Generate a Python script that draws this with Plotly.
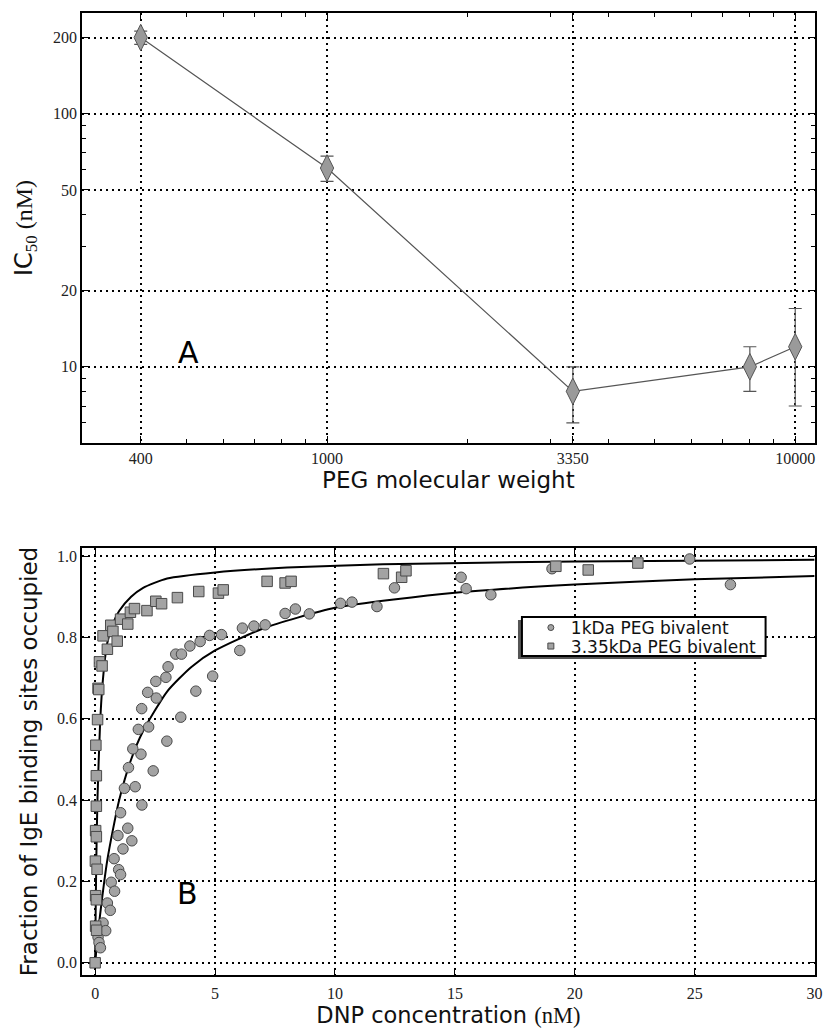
import plotly.graph_objects as go
import math

# ---------------- Panel A data ----------------
peg_mw = [400, 1000, 3350, 8000, 10000]
ic50 = [200, 61, 8, 10, 12]
ic50_err = [12, 7, 2, 2, 5]
peg_ticks = [400, 1000, 3350, 10000]
peg_ticktext = ["400", "1000", "3350", "10000"]
peg_minor = [500, 600, 700, 800, 900, 2000, 3000, 4000, 5000, 6000, 7000, 8000, 9000]
ic50_ticks = [10, 20, 50, 100, 200]
ic50_minor = [6, 7, 8, 9, 30, 40, 60, 70, 80, 90]

# ---------------- Panel B data ----------------
kda1_x = [0.12, 0.16, 0.22, 0.33, 0.44, 0.51, 0.63, 0.67, 0.81, 0.79, 0.98, 1.06, 0.95, 1.16,
          1.36, 1.53, 1.06, 1.95, 1.22, 1.67, 1.39, 2.42, 1.91, 1.57, 2.99, 1.80, 2.23, 3.57,
          1.94, 2.55, 2.19, 4.20, 2.53, 2.95, 4.90, 3.04, 3.36, 3.60, 6.03, 3.95, 4.38, 4.77,
          5.27, 6.14, 6.62, 7.09, 7.92, 8.35, 8.93, 10.23, 10.71, 11.75, 12.48, 15.26, 15.47,
          16.50, 19.05, 24.79, 26.49]
kda1_y = [0.063, 0.050, 0.037, 0.098, 0.079, 0.147, 0.129, 0.198, 0.176, 0.256, 0.229, 0.217,
          0.313, 0.280, 0.331, 0.300, 0.369, 0.388, 0.429, 0.433, 0.480, 0.472, 0.513, 0.526,
          0.545, 0.574, 0.580, 0.604, 0.625, 0.651, 0.665, 0.668, 0.692, 0.702, 0.705, 0.728,
          0.759, 0.759, 0.768, 0.779, 0.790, 0.805, 0.807, 0.823, 0.828, 0.831, 0.859, 0.870,
          0.858, 0.884, 0.887, 0.876, 0.922, 0.948, 0.920, 0.905, 0.969, 0.993, 0.930]

kda335_x = [0.00, 0.02, 0.06, 0.02, 0.05, 0.01, 0.08, 0.02, 0.05, 0.05, 0.05, 0.03, 0.10, 0.12,
            0.15, 0.18, 0.29, 0.33, 0.51, 0.65, 0.74, 0.92, 1.06, 1.36, 1.47, 1.64, 2.16, 2.53,
            2.77, 3.43, 4.32, 5.14, 5.34, 7.17, 7.92, 8.17, 12.02, 12.78, 12.96, 19.21, 20.56,
            22.63]
kda335_y = [0.000, 0.090, 0.080, 0.165, 0.155, 0.250, 0.230, 0.325, 0.310, 0.385, 0.460, 0.535,
            0.598, 0.675, 0.672, 0.740, 0.730, 0.804, 0.771, 0.830, 0.815, 0.791, 0.845, 0.833,
            0.862, 0.871, 0.866, 0.889, 0.883, 0.898, 0.913, 0.909, 0.917, 0.938, 0.934, 0.938,
            0.957, 0.948, 0.964, 0.975, 0.966, 0.983]

# fitted curves
fit_fast_x = [0, 0.02, 0.05, 0.1, 0.2, 0.3, 0.5, 0.75, 1.0, 1.5, 2.0, 3.0, 5.0, 8.0, 12.0, 20.0, 30.0]
fit_fast_y = [0, 0.12, 0.26, 0.41, 0.58, 0.68, 0.785, 0.835, 0.865, 0.90, 0.922, 0.945, 0.960,
              0.972, 0.980, 0.987, 0.991]
fit_slow_x = [0, 0.1, 0.25, 0.5, 0.75, 1.0, 1.5, 2.0, 3.0, 4.0, 5.0, 7.0, 10.0, 15.0, 20.0, 25.0, 30.0]
fit_slow_y = [0, 0.063, 0.14, 0.25, 0.33, 0.40, 0.50, 0.57, 0.667, 0.727, 0.768, 0.822, 0.873,
              0.910, 0.930, 0.943, 0.951]

SERIF = "Liberation Serif"
SANS = "DejaVu Sans"
W, H = 834, 1036

fig = go.Figure()

# Panel A
fig.add_trace(go.Scatter(
    x=peg_mw, y=ic50, mode="lines+markers", xaxis="x", yaxis="y", showlegend=False,
    line=dict(color="#555555", width=1.2),
    marker=dict(symbol="diamond-tall", size=19, color="#9a9a9a", line=dict(color="#555555", width=1)),
    error_y=dict(type="data", array=ic50_err, visible=True, color="#555555", thickness=1.2, width=6.5),
))

# Panel B
fig.add_trace(go.Scatter(x=fit_fast_x, y=fit_fast_y, mode="lines", xaxis="x2", yaxis="y2",
                         line=dict(color="black", width=2, shape="spline", smoothing=0.6), showlegend=False))
fig.add_trace(go.Scatter(x=fit_slow_x, y=fit_slow_y, mode="lines", xaxis="x2", yaxis="y2",
                         line=dict(color="black", width=2, shape="spline", smoothing=0.6), showlegend=False))
fig.add_trace(go.Scatter(x=kda1_x, y=kda1_y, mode="markers", xaxis="x2", yaxis="y2", showlegend=False,
                         marker=dict(symbol="circle", size=10.5, color="#a3a3a3", line=dict(color="#4a4a4a", width=1))))
fig.add_trace(go.Scatter(x=kda335_x, y=kda335_y, mode="markers", xaxis="x2", yaxis="y2", showlegend=False,
                         marker=dict(symbol="square", size=10.5, color="#a3a3a3", line=dict(color="#4a4a4a", width=1))))
# legend entries (small symbols), one per legend so the rows can sit close together
fig.add_trace(go.Scatter(x=[None], y=[None], mode="markers", xaxis="x2", yaxis="y2", name="1kDa PEG bivalent",
                         legend="legend",
                         marker=dict(symbol="circle", size=6, color="#a3a3a3", line=dict(color="#4a4a4a", width=1))))
fig.add_trace(go.Scatter(x=[None], y=[None], mode="markers", xaxis="x2", yaxis="y2", name="3.35kDa PEG bivalent",
                         legend="legend2",
                         marker=dict(symbol="square", size=6, color="#a3a3a3", line=dict(color="#4a4a4a", width=1))))

XD = [83 / W, 822.5 / W]
axis_common = dict(showline=True, linecolor="black", linewidth=2, mirror="allticks",
                   ticks="inside", tickcolor="black", ticklen=7, tickwidth=1,
                   showgrid=True, gridcolor="black", gridwidth=1.5, griddash="2px,4px",
                   zeroline=False, tickfont=dict(family=SERIF, size=16, color="#222"))

leg_common = dict(xanchor="left", yanchor="top", bgcolor="rgba(0,0,0,0)", borderwidth=0,
                  font=dict(family=SANS, size=17, color="#111"), itemwidth=30)

fig.update_layout(
    width=W, height=H, margin=dict(l=0, r=0, t=0, b=0),
    paper_bgcolor="white", plot_bgcolor="white",
    xaxis=dict(domain=XD, anchor="y", type="log", range=[math.log10(300), math.log10(11000)],
               tickvals=peg_ticks, ticktext=peg_ticktext,
               minor=dict(tickvals=peg_minor, ticks="inside", ticklen=4, tickcolor="black", showgrid=False),
               title=dict(text="PEG molecular weight", font=dict(family=SANS, size=23, color="#111"), standoff=4),
               **axis_common),
    yaxis=dict(domain=[1 - 443 / H, 1 - 13 / H], anchor="x", type="log",
               range=[math.log10(5), math.log10(250)],
               tickvals=ic50_ticks, ticktext=[str(v) for v in ic50_ticks],
               minor=dict(tickvals=ic50_minor, ticks="inside", ticklen=4, tickcolor="black", showgrid=False),
               title=dict(text='IC<sub><span style="font-family:Liberation Serif">50</span></sub>'
                               '<span style="font-family:Liberation Serif"> (nM)</span>',
                          font=dict(family=SANS, size=24, color="#111"), standoff=14),
               **axis_common),
    xaxis2=dict(domain=XD, anchor="y2", range=[-0.54, 30], tick0=0, dtick=5, ticklabelstandoff=3,
                title=dict(text='DNP concentration <span style="font-family:Liberation Serif">(nM)</span>',
                           font=dict(family=SANS, size=22.5, color="#111"), standoff=0),
                **axis_common),
    yaxis2=dict(domain=[1 - 975 / H, 1 - 548 / H], anchor="x2", range=[-0.03, 1.02], tick0=0, dtick=0.2,
                tickformat=".1f",
                title=dict(text="Fraction of IgE binding sites occupied",
                           font=dict(family=SANS, size=23, color="#111"), standoff=13),
                **axis_common),
    legend=dict(x=536 / W, y=1 - 610 / H, **leg_common),
    legend2=dict(x=536 / W, y=1 - 628.5 / H, **leg_common),
    showlegend=True,
)

# legend box with shadow
bx0, bx1, by0, by1 = 527, 773, 617, 656
fig.add_shape(type="rect", xref="paper", yref="paper", layer="above",
              x0=(bx0 - 4) / W, x1=(bx1 - 4) / W, y0=1 - (by1 + 3) / H, y1=1 - (by0 + 3) / H,
              fillcolor="#555555", line=dict(width=0))
fig.add_shape(type="rect", xref="paper", yref="paper", layer="above",
              x0=bx0 / W, x1=bx1 / W, y0=1 - by1 / H, y1=1 - by0 / H,
              fillcolor="white", line=dict(color="black", width=2))

fig.add_annotation(text="A", xref="paper", yref="paper", x=178 / W, y=1 - 333 / H, showarrow=False,
                   font=dict(family=SANS, size=30, color="black"))
fig.add_annotation(text="B", xref="paper", yref="paper", x=177 / W, y=1 - 913 / H, showarrow=False,
                   font=dict(family=SANS, size=30, color="black"))

fig.write_html("out.html")
